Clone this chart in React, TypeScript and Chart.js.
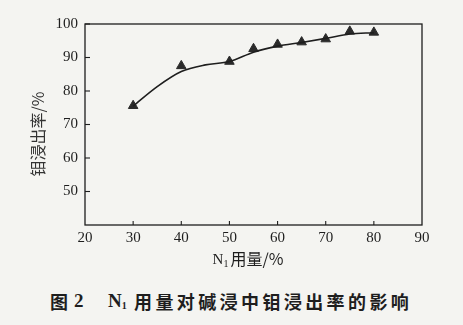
import React, { useEffect, useRef } from "react";
import { Chart, registerables } from "chart.js";

Chart.register(...registerables);

const pointX = [30, 40, 50, 55, 60, 65, 70, 75, 80];
const pointY = [75.6, 87.5, 88.8, 92.6, 93.9, 94.6, 95.5, 97.8, 97.5];
const curveX = [30, 35, 40, 45, 50, 55, 60, 65, 70, 75, 80];
const curveY = [75.5, 81.3, 85.8, 87.8, 88.8, 91.6, 93.4, 94.5, 95.7, 97.0, 97.4];
const xTicks = [20, 30, 40, 50, 60, 70, 80, 90];
const yTicks = [50, 60, 70, 80, 90, 100];
const yTitle = "钼浸出率/%";
const xTitleMain = "N";
const xTitleSub = "1";
const xTitleRest = "用量/%";
const captionFig = "图";
const captionNum = "2";
const captionB = "用量对碱浸中钼浸出率的影响";

const INK = "#1e1e1e";
const SERIF = "'Liberation Serif', 'Noto Sans CJK SC', serif";

const framePlugin = {
  id: "frame",
  afterDraw(chart: any) {
    const { ctx, chartArea: a, scales } = chart;
    ctx.save();
    ctx.strokeStyle = INK;
    ctx.lineWidth = 1.3;
    ctx.strokeRect(a.left, a.top, a.right - a.left, a.bottom - a.top);
    ctx.lineWidth = 1.1;
    for (const v of xTicks) {
      if (v <= 20 || v >= 90) continue;
      const px = scales.x.getPixelForValue(v);
      ctx.beginPath();
      ctx.moveTo(px, a.bottom);
      ctx.lineTo(px, a.bottom - 4);
      ctx.stroke();
    }
    for (const v of yTicks) {
      const py = scales.y.getPixelForValue(v);
      ctx.beginPath();
      ctx.moveTo(a.left, py);
      ctx.lineTo(a.left + 5, py);
      ctx.stroke();
    }
    // y title
    ctx.fillStyle = "#333";
    ctx.save();
    ctx.translate(38, 134);
    ctx.rotate(-Math.PI / 2);
    ctx.font = "16px 'Noto Sans CJK SC', sans-serif";
    ctx.textAlign = "center";
    ctx.textBaseline = "middle";
    ctx.fillText(yTitle, 0, 0);
    ctx.restore();
    // x title
    ctx.fillStyle = INK;
    ctx.textBaseline = "alphabetic";
    ctx.textAlign = "left";
    const fMain = "15px 'Liberation Serif', serif";
    const fSub = "10px 'Liberation Serif', serif";
    const fCjk = "16px 'Noto Sans CJK SC', sans-serif";
    ctx.font = fMain;
    const w1 = ctx.measureText(xTitleMain).width;
    ctx.font = fSub;
    const w2 = ctx.measureText(xTitleSub).width;
    ctx.font = fCjk;
    const w3 = ctx.measureText(xTitleRest).width;
    const total = w1 + w2 + 2 + w3;
    let x = 248 - total / 2;
    const base = 263.5;
    ctx.font = fMain;
    ctx.fillText(xTitleMain, x, base);
    x += w1;
    ctx.font = fSub;
    ctx.fillText(xTitleSub, x, base + 3);
    x += w2 + 2;
    ctx.font = fCjk;
    ctx.fillText(xTitleRest, x, base + 1);
    ctx.restore();
  },
};

export default function App() {
  const ref = useRef<HTMLCanvasElement>(null);
  useEffect(() => {
    if (!ref.current) return;
    const chart = new Chart(ref.current, {
      type: "scatter",
      data: {
        datasets: [
          {
            type: "line",
            data: curveX.map((x, i) => ({ x, y: curveY[i] })),
            borderColor: INK,
            borderWidth: 1.6,
            pointRadius: 0,
            cubicInterpolationMode: "monotone",
            fill: false,
          } as any,
          {
            data: pointX.map((x, i) => ({ x, y: pointY[i] })),
            pointStyle: "triangle",
            pointRadius: 5.5,
            backgroundColor: "#2a2a2a",
            borderColor: "#2a2a2a",
            borderWidth: 1,
          },
        ],
      },
      options: {
        responsive: false,
        animation: false,
        devicePixelRatio: 1,
        layout: { padding: { left: 0, top: 24, right: 41, bottom: 35 } },
        plugins: { legend: { display: false }, tooltip: { enabled: false } },
        scales: {
          x: {
            type: "linear",
            min: 20,
            max: 90,
            afterFit: (s: any) => {
              s.height = 20;
            },
            afterBuildTicks: (s: any) => {
              s.ticks = xTicks.map((v) => ({ value: v }));
            },
            grid: { display: false, drawTicks: false },
            border: { display: false },
            ticks: {
              padding: 4,
              color: INK,
              font: { family: SERIF, size: 15 },
              maxRotation: 0,
              autoSkip: false,
            },
          },
          y: {
            type: "linear",
            min: 40,
            max: 100,
            afterFit: (s: any) => {
              s.width = 85;
            },
            afterBuildTicks: (s: any) => {
              s.ticks = yTicks.map((v) => ({ value: v }));
            },
            grid: { display: false, drawTicks: false },
            border: { display: false },
            ticks: {
              padding: 7,
              color: INK,
              font: { family: SERIF, size: 15 },
              autoSkip: false,
            },
          },
        },
      },
      plugins: [framePlugin],
    });
    return () => chart.destroy();
  }, []);

  const cap: React.CSSProperties = {
    position: "absolute",
    top: 289,
    whiteSpace: "nowrap",
    color: INK,
    fontWeight: "bold",
    fontSize: 18,
    lineHeight: "24px",
    fontFamily: "'Noto Sans CJK SC', sans-serif",
  };

  return (
    <div
      style={{
        position: "absolute",
        left: 0,
        top: 0,
        width: 463,
        height: 325,
        background: "#f4f4f1",
        overflow: "hidden",
      }}
    >
      <canvas ref={ref} width={463} height={280} style={{ display: "block" }} />
      <div style={{ ...cap, left: 50 }}>{captionFig}</div>
      <div style={{ ...cap, left: 74, fontFamily: "'Liberation Serif', serif", fontSize: 19 }}>
        {captionNum}
      </div>
      <div style={{ ...cap, left: 108, fontFamily: "'Liberation Serif', serif", fontSize: 19 }}>
        N<sub style={{ fontSize: 10, verticalAlign: "-2px" }}>1</sub>
      </div>
      <div style={{ ...cap, left: 134, letterSpacing: 3.4 }}>{captionB}</div>
    </div>
  );
}
